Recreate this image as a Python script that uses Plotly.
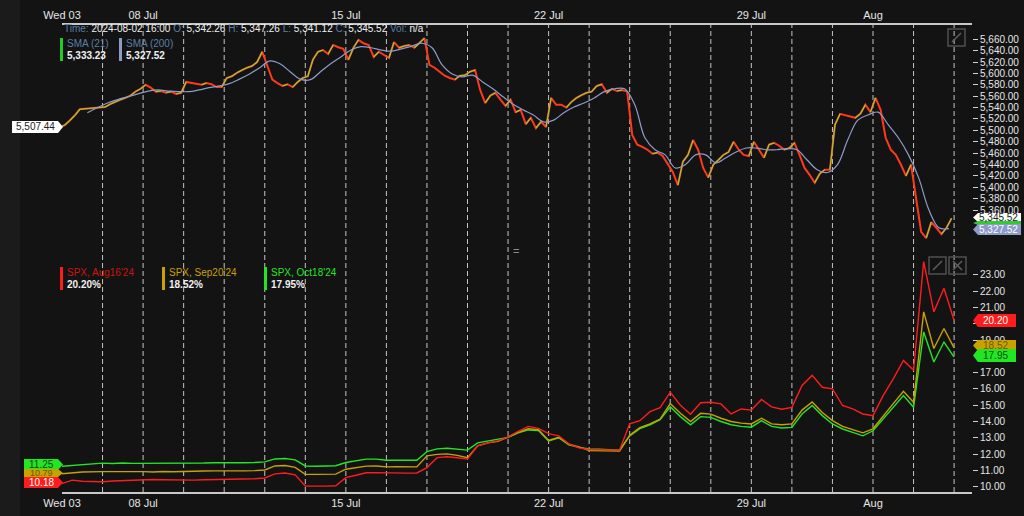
import plotly.graph_objects as go

# trading sessions shown on the axis (Jul 3 is a half day)
trading_days = ["2024-07-03", "2024-07-05", "2024-07-08", "2024-07-09", "2024-07-10",
                "2024-07-11", "2024-07-12", "2024-07-15", "2024-07-16", "2024-07-17",
                "2024-07-18", "2024-07-19", "2024-07-22", "2024-07-23", "2024-07-24",
                "2024-07-25", "2024-07-26", "2024-07-29", "2024-07-30", "2024-07-31",
                "2024-08-01", "2024-08-02"]
tick_days = ["2024-07-03", "2024-07-08", "2024-07-15", "2024-07-22", "2024-07-29", "2024-08-01"]
tick_text = ["Wed 03", "08 Jul", "15 Jul", "22 Jul", "29 Jul", "Aug"]

# SPX closes, 8 per session
first_open = 5507.44
closes = [
    [5509, 5517, 5526, 5537],
    [5541, 5546, 5550, 5554, 5557, 5561, 5568, 5573],
    [5580, 5575, 5568, 5569, 5566, 5568, 5564, 5566],
    [5585, 5583, 5581, 5580, 5583, 5581, 5576, 5576],
    [5592, 5595, 5601, 5606, 5610, 5613, 5620, 5638],
    [5613, 5589, 5583, 5578, 5581, 5576, 5585, 5592],
    [5595, 5624, 5638, 5641, 5634, 5650, 5646, 5643],
    [5624, 5645, 5659, 5653, 5650, 5629, 5638, 5632],
    [5627, 5655, 5645, 5648, 5650, 5645, 5653, 5662],
    [5615, 5610, 5603, 5596, 5592, 5589, 5596, 5597],
    [5603, 5606, 5571, 5548, 5561, 5566, 5554, 5543],
    [5554, 5532, 5536, 5511, 5522, 5504, 5515, 5506],
    [5557, 5545, 5545, 5540, 5550, 5557, 5562, 5566],
    [5568, 5578, 5581, 5566, 5573, 5569, 5571, 5568],
    [5492, 5475, 5471, 5466, 5459, 5461, 5455, 5441],
    [5427, 5404, 5445, 5457, 5483, 5466, 5434, 5417],
    [5440, 5448, 5457, 5462, 5480, 5466, 5457, 5455],
    [5480, 5466, 5452, 5475, 5478, 5473, 5466, 5469],
    [5478, 5457, 5434, 5422, 5408, 5424, 5431, 5431],
    [5510, 5529, 5527, 5525, 5522, 5529, 5545, 5532],
    [5557, 5536, 5487, 5466, 5457, 5440, 5420, 5440],
    [5378, 5322, 5311, 5339, 5329, 5318, 5329, 5345.52],
]

# SMA(200), 4 per session
sma200 = [
    [None, None, 5531, None],
    [5548, 5554, 5559, 5564],
    [5569, 5571, 5569, 5568],
    [5568, 5571, 5575, 5578],
    [5582, 5590, 5599, 5610],
    [5622, 5617, 5603, 5590],
    [5589, 5603, 5617, 5629],
    [5641, 5647, 5645, 5641],
    [5639, 5643, 5648, 5653],
    [5645, 5615, 5599, 5594],
    [5597, 5585, 5573, 5559],
    [5546, 5536, 5527, 5515],
    [5518, 5531, 5541, 5548],
    [5557, 5568, 5573, 5573],
    [5545, 5487, 5466, 5457],
    [5434, 5440, 5457, 5457],
    [5443, 5452, 5462, 5469],
    [5469, 5466, 5466, 5468],
    [5466, 5448, 5431, 5426],
    [5440, 5483, 5518, 5527],
    [5532, 5510, 5487, 5457],
    [5417, 5361, 5329, 5327.52],
]

# implied vol (%), 4 per session + last value
iv_aug = [
    [10.18, 10.40, 10.33],
    [10.30, 10.35, 10.38, 10.41],
    [10.45, 10.44, 10.42, 10.40],
    [10.39, 10.40, 10.42, 10.43],
    [10.45, 10.47, 10.46, 10.48],
    [10.53, 10.78, 10.84, 10.72],
    [10.04, 10.02, 10.03, 10.05],
    [10.55, 10.70, 10.85, 10.86],
    [10.84, 10.85, 10.83, 10.84],
    [11.17, 11.78, 11.83, 11.77],
    [11.69, 12.51, 12.69, 12.81],
    [13.06, 13.40, 13.70, 13.58],
    [13.25, 13.12, 12.63, 12.38],
    [12.28, 12.26, 12.24, 12.24],
    [13.85, 14.05, 14.60, 14.85],
    [15.80, 15.00, 14.45, 15.15],
    [15.18, 15.08, 14.46, 14.77],
    [14.70, 15.35, 14.90, 14.75],
    [14.87, 16.21, 16.83, 16.10],
    [16.00, 14.98, 14.77, 14.46],
    [14.36, 15.59, 16.62, 17.75],
    [17.14, 23.82, 20.73, 22.18],
]
iv_sep = [
    [10.79, 10.84, 10.90],
    [10.92, 10.93, 10.90, 10.92],
    [10.92, 10.90, 10.93, 10.91],
    [10.94, 10.95, 10.96, 10.97],
    [10.96, 10.98, 10.97, 10.98],
    [11.02, 11.27, 11.30, 11.18],
    [10.76, 10.75, 10.76, 10.77],
    [11.07, 11.15, 11.26, 11.27],
    [11.21, 11.22, 11.20, 11.21],
    [11.89, 11.98, 12.01, 11.92],
    [11.78, 12.51, 12.69, 12.78],
    [13.04, 13.33, 13.55, 13.50],
    [12.84, 13.03, 12.60, 12.44],
    [12.22, 12.20, 12.18, 12.18],
    [13.15, 13.62, 13.85, 14.15],
    [15.10, 14.50, 14.00, 14.50],
    [14.45, 14.20, 14.00, 13.90],
    [13.85, 14.20, 13.85, 13.80],
    [13.85, 14.70, 15.20, 14.55],
    [14.05, 13.70, 13.50, 13.30],
    [13.55, 14.35, 15.10, 15.85],
    [15.18, 20.73, 18.48, 19.71],
]
iv_oct = [
    [11.25, 11.30, 11.36],
    [11.44, 11.42, 11.45, 11.43],
    [11.43, 11.41, 11.44, 11.42],
    [11.41, 11.43, 11.45, 11.47],
    [11.46, 11.48, 11.47, 11.48],
    [11.52, 11.70, 11.73, 11.64],
    [11.27, 11.25, 11.26, 11.28],
    [11.48, 11.58, 11.69, 11.69],
    [11.62, 11.63, 11.61, 11.62],
    [12.15, 12.32, 12.36, 12.29],
    [12.24, 12.69, 12.81, 12.92],
    [13.02, 13.30, 13.48, 13.45],
    [12.81, 13.00, 12.57, 12.41],
    [12.32, 12.30, 12.26, 12.24],
    [13.12, 13.56, 13.80, 14.11],
    [14.90, 14.30, 13.80, 14.30],
    [14.25, 14.00, 13.80, 13.70],
    [13.65, 14.05, 13.70, 13.60],
    [13.64, 14.46, 14.98, 14.36],
    [13.85, 13.54, 13.33, 13.12],
    [13.43, 14.15, 14.87, 15.59],
    [14.87, 19.50, 17.65, 18.88],
]
iv_last = {"aug": 20.20, "sep": 18.52, "oct": 17.95}

BG = "#131313"
RED = "#ff1c1c"
GOLD = "#c9a100"
GREEN = "#22e622"
LAV = "#8d9bc9"
FONT = "Liberation Sans, Arial, sans-serif"


def session_series(days, per_day, offset):
    xs, ys = [], []
    for k, day in enumerate(days):
        for i, v in enumerate(day):
            xs.append(k + (i + offset) / per_day)
            ys.append(v)
    return xs, ys


# pixel -> paper helpers (plot area 62..972 x 25..492)
def px(x):
    return (x - 62) / 910


def py(y):
    return (492 - y) / 467


bar_x, bar_c = session_series(closes, 8, 0.5)
bar_o = [first_open] + bar_c[:-1]
prev_x = [0] + bar_x[:-1]
# rising steps drawn in green over the red price line
up_x, up_y = [], []
for x0, x1, o, c in zip(prev_x, bar_x, bar_o, bar_c):
    if c > o:
        up_x += [x0, x1, None]
        up_y += [o, c, None]
sma_x, sma_y = session_series(sma200, 4, 0.5)

n_days = len(trading_days)
fig = go.Figure()

fig.add_trace(go.Scatter(
    x=[0] + bar_x, y=[first_open] + bar_c, mode="lines", line=dict(color="#ff3a1a", width=2),
    showlegend=False, xaxis="x", yaxis="y",
))
fig.add_trace(go.Scatter(
    x=up_x, y=up_y, mode="lines", line=dict(color="#8ed63a", width=1.1),
    showlegend=False, xaxis="x", yaxis="y",
))
fig.add_trace(go.Scatter(
    x=sma_x, y=sma_y, mode="lines", connectgaps=True, line=dict(color=LAV, width=1.2, shape="spline"),
    showlegend=False, xaxis="x", yaxis="y",
))

for days, key, color in [(iv_oct, "oct", GREEN), (iv_sep, "sep", GOLD), (iv_aug, "aug", RED)]:
    xs, ys = session_series(days, 4, 0)
    xs.append(n_days)
    ys.append(iv_last[key])
    fig.add_trace(go.Scatter(x=xs, y=ys, mode="lines", line=dict(color=color, width=1.4),
                             showlegend=False, xaxis="x2", yaxis="y2"))

shapes = []
# session separators
for k in range(1, n_days + 1):
    shapes.append(dict(type="line", xref="x", yref="paper", x0=k, x1=k, y0=0, y1=1,
                       line=dict(color="#c4c4c4", width=1, dash="5px,3px"), layer="below"))

# left strip
shapes.append(dict(type="rect", xref="paper", yref="paper", x0=px(0), x1=px(20), y0=py(516), y1=py(0),
                   fillcolor="#1b1b1b", line=dict(width=0), layer="below"))


def tag(x0, x1, y0, y1, tip, color):
    ym = (y0 + y1) / 2
    if tip > x1:
        pts = [(x0, y0), (x1, y0), (tip, ym), (x1, y1), (x0, y1)]
    else:
        pts = [(tip, ym), (x0, y0), (x1, y0), (x1, y1), (x0, y1)]
    path = "M " + " L ".join(f"{px(a):.5f},{py(b):.5f}" for a, b in pts) + " Z"
    shapes.append(dict(type="path", xref="paper", yref="paper", path=path,
                       fillcolor=color, line=dict(width=0)))


def label(x, y, text, color, size=10, anchor="left"):
    fig.add_annotation(x=px(x), y=py(y), xref="paper", yref="paper", text=text, showarrow=False,
                       xanchor=anchor, yanchor="middle", font=dict(family=FONT, size=size, color=color))


# legend bars
shapes.append(dict(type="rect", xref="paper", yref="paper", x0=px(60), x1=px(63), y0=py(61), y1=py(38),
                   fillcolor="#22cc22", line=dict(width=0)))
shapes.append(dict(type="rect", xref="paper", yref="paper", x0=px(119), x1=px(122), y0=py(61), y1=py(38),
                   fillcolor=LAV, line=dict(width=0)))
for x, c in [(60, RED), (162, GOLD), (264, GREEN)]:
    shapes.append(dict(type="rect", xref="paper", yref="paper", x0=px(x), x1=px(x + 3), y0=py(290), y1=py(267),
                       fillcolor=c, line=dict(width=0)))

# icons
for x0, y0 in [(948, 29), (929, 257), (949, 257)]:
    shapes.append(dict(type="rect", xref="paper", yref="paper", x0=px(x0), x1=px(x0 + 17), y0=py(y0 + 17),
                       y1=py(y0), line=dict(color="#505050", width=1.5)))
for x0, y0 in [(948, 29), (929, 257)]:
    shapes.append(dict(type="line", xref="paper", yref="paper", x0=px(x0 + 4), x1=px(x0 + 13), y0=py(y0 + 13),
                       y1=py(y0 + 4), line=dict(color="#606060", width=1.5)))
shapes.append(dict(type="line", xref="paper", yref="paper", x0=px(953), x1=px(962), y0=py(270), y1=py(261),
                   line=dict(color="#606060", width=1.5)))
shapes.append(dict(type="line", xref="paper", yref="paper", x0=px(953), x1=px(962), y0=py(261), y1=py(270),
                   line=dict(color="#606060", width=1.5)))

# price tags
tag(12, 58, 121, 133, 63, "#ffffff")
tag(978, 1021, 213, 222, 973, "#ffffff")
tag(978, 1021, 221, 225, 973, "#2ecc2e")
tag(978, 1021, 224, 235, 973, LAV)
tag(978, 1016, 314, 327, 973, RED)
tag(978, 1016, 340, 351, 973, GOLD)
tag(978, 1016, 349, 362, 973, GREEN)
tag(24, 58, 459, 470, 63, GREEN)
tag(24, 58, 469, 477, 63, GOLD)
tag(24, 58, 477, 488, 63, RED)

fig.update_layout(shapes=shapes)

# header
hc = "#5b7fa6"
header = (f"<span style='color:{hc}'>Time:</span> 2024-08-02 16:00 <span style='color:{hc}'>O:</span> 5,342.26 "
          f"<span style='color:{hc}'>H:</span> 5,347.26 <span style='color:{hc}'>L:</span> 5,341.12 "
          f"<span style='color:{hc}'>C:</span> 5,345.52 <span style='color:{hc}'>Vol:</span> n/a")
label(62, 29, header, "#f0f0f0", 10)
label(65, 44, "SMA (21)", hc, 10)
label(65, 56, "<b>5,333.23</b>", "#f0f0f0", 10)
label(124, 44, "SMA (200)", hc, 10)
label(124, 56, "<b>5,327.52</b>", "#f0f0f0", 10)
label(65, 272, "SPX, Aug16'24", "#cc1414", 10)
label(65, 284, "<b>20.20%</b>", "#f0f0f0", 10)
label(167, 272, "SPX, Sep20'24", GOLD, 10)
label(167, 284, "<b>18.52%</b>", "#f0f0f0", 10)
label(269, 272, "SPX, Oct18'24", GREEN, 10)
label(269, 284, "<b>17.95%</b>", "#f0f0f0", 10)
label(516, 251, "=", "#8a8a8a", 11, "center")

label(35, 127, "5,507.44", "#222222", 10, "center")
label(999, 217.5, "5,345.52", "#222222", 10, "center")
label(999, 229.5, "5,327.52", "#ffffff", 10, "center")
label(996, 320.5, "20.20", "#ffffff", 10, "center")
label(996, 345.5, "18.52", "#6e5800", 10, "center")
label(996, 355.5, "17.95", "#0b4d0b", 10, "center")
label(41, 464.5, "11.25", "#0b4d0b", 10, "center")
label(41, 473, "10.79", "#6e5800", 9, "center")
label(41, 482.5, "10.18", "#ffffff", 10, "center")

tick_vals = [trading_days.index(d) for d in tick_days]
x_range = [0, 910 / 40.55]
axis_font = dict(family=FONT, size=11, color="#e6e6e6")
fig.update_layout(
    width=1024, height=516,
    margin=dict(l=62, r=52, t=25, b=24, autoexpand=False),
    paper_bgcolor=BG, plot_bgcolor="rgba(0,0,0,0)",
    font=dict(family=FONT, color="#e6e6e6"),
    showlegend=False,
    xaxis=dict(domain=[0, 1], anchor="y", side="top", range=x_range, tickvals=tick_vals, ticktext=tick_text,
               showgrid=False, zeroline=False, showline=True, linecolor="#c8c8c8", linewidth=1.5,
               ticks="", tickfont=axis_font, automargin=False),
    xaxis2=dict(domain=[0, 1], anchor="y2", side="bottom", range=x_range, tickvals=tick_vals,
                ticktext=tick_text, showgrid=False, zeroline=False, showline=True, linecolor="#c8c8c8",
                linewidth=1.5, ticks="", tickfont=axis_font, matches="x", automargin=False),
    yaxis=dict(domain=[py(246), 1], anchor="x", side="right", range=[5297, 5685],
               tickvals=list(range(5360, 5661, 20)), tickformat=",.2f", showgrid=False, zeroline=False,
               ticks="outside", ticklen=5, tickcolor="#d0d0d0", automargin=False,
               tickfont=dict(family=FONT, size=10, color="#e6e6e6")),
    yaxis2=dict(domain=[0, py(257)], anchor="x2", side="right", range=[9.67, 24.1],
                tickvals=[v for v in range(10, 24) if v != 18], tickformat=".2f", ticksuffix="%",
                showgrid=False, zeroline=False, ticks="outside", ticklen=5, tickcolor="#d0d0d0",
                automargin=False, tickfont=dict(family=FONT, size=10, color="#e6e6e6")),
)

fig.write_html("out.html", config={"displayModeBar": False},
               post_script="document.body.style.margin='0';")
